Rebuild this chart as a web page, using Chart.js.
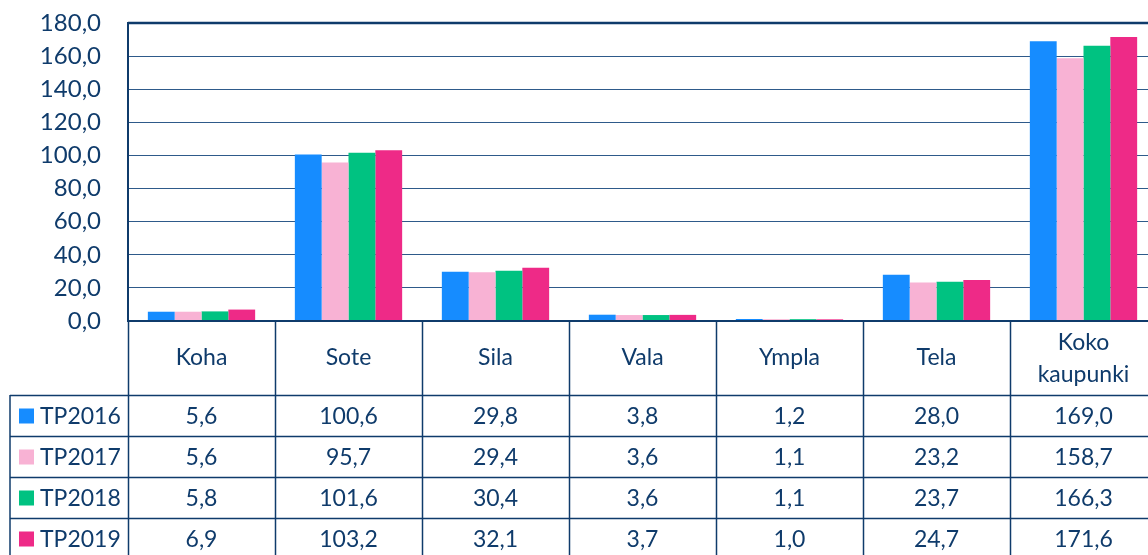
<!DOCTYPE html>
<html>
<head>
<meta charset="utf-8">
<script src="https://cdn.jsdelivr.net/npm/chart.js@4/dist/chart.umd.min.js"></script>
<style>
    html, body { margin: 0; padding: 0; background: #fff; overflow: hidden; }
    #wrap { width: 1160px; height: 555px; }
</style>
</head>
<body>
<div id="wrap"><canvas id="chart" width="1160" height="555"></canvas></div>
<script>
// Datos del gráfico
const categorias = ['Koha', 'Sote', 'Sila', 'Vala', 'Ympla', 'Tela', ['Koko', 'kaupunki']];
const series = ['TP2016', 'TP2017', 'TP2018', 'TP2019'];
const tp2016 = [5.6, 100.6, 29.8, 3.8, 1.2, 28.0, 169.0];
const tp2017 = [5.6, 95.7, 29.4, 3.6, 1.1, 23.2, 158.7];
const tp2018 = [5.8, 101.6, 30.4, 3.6, 1.1, 23.7, 166.3];
const tp2019 = [6.9, 103.2, 32.1, 3.7, 1.0, 24.7, 171.6];
const yTicks = [0, 20, 40, 60, 80, 100, 120, 140, 160, 180];

const colores = ['#168cff', '#f8b2d4', '#00c281', '#ee2a87'];
const navy = '#0f3b6b';
const fuente = 'Lato, "Open Sans", sans-serif';

function fmt(v) {
    return v.toFixed(1).replace('.', ',');
}

// Tabla de datos debajo del gráfico
const tablaPlugin = {
    id: 'tabla',
    afterDraw(chart) {
        const ctx = chart.ctx;
        const area = chart.chartArea;
        const n = categorias.length;
        const colW = area.width / n;
        const headerH = 74;
        const rowH = 41;
        const legendLeft = 10;
        const headerBottom = area.bottom + headerH;
        const tableBottom = headerBottom + rowH * series.length;
        const valores = [tp2016, tp2017, tp2018, tp2019];

        ctx.save();
        ctx.strokeStyle = navy;

        // Marco del área del gráfico
        ctx.lineWidth = 2.5;
        ctx.beginPath();
        ctx.moveTo(area.left, area.top);
        ctx.lineTo(area.right, area.top);
        ctx.stroke();

        ctx.lineWidth = 2;
        ctx.beginPath();
        ctx.moveTo(area.left, area.bottom);
        ctx.lineTo(area.right, area.bottom);
        ctx.stroke();

        // Líneas verticales de la tabla
        ctx.lineWidth = 1.5;
        for (let i = 0; i <= n; i++) {
            const x = Math.round(area.left + i * colW) + 0.5;
            ctx.beginPath();
            ctx.moveTo(x, area.bottom);
            ctx.lineTo(x, tableBottom);
            ctx.stroke();
        }
        ctx.beginPath();
        ctx.moveTo(legendLeft, headerBottom);
        ctx.lineTo(legendLeft, tableBottom);
        ctx.stroke();

        // Líneas horizontales
        for (let r = 0; r <= series.length; r++) {
            const y = Math.round(headerBottom + r * rowH) + 0.5;
            ctx.beginPath();
            ctx.moveTo(legendLeft, y);
            ctx.lineTo(area.right, y);
            ctx.stroke();
        }

        // Encabezados de categoría
        ctx.fillStyle = navy;
        ctx.font = '23px ' + fuente;
        ctx.textAlign = 'center';
        ctx.textBaseline = 'middle';
        const headerMid = area.bottom + headerH / 2;
        categorias.forEach((cat, i) => {
            const cx = area.left + (i + 0.5) * colW;
            if (Array.isArray(cat)) {
                ctx.fillText(cat[0], cx, headerMid - 15);
                ctx.fillText(cat[1], cx, headerMid + 17);
            } else {
                ctx.fillText(cat, cx, headerMid);
            }
        });

        // Filas de datos con leyenda
        series.forEach((nombre, r) => {
            const cy = headerBottom + r * rowH + rowH / 2;
            ctx.fillStyle = colores[r];
            ctx.fillRect(19, cy - 7, 15, 15);
            ctx.fillStyle = navy;
            ctx.textAlign = 'left';
            ctx.fillText(nombre, 40, cy + 1);
            ctx.textAlign = 'center';
            valores[r].forEach((v, i) => {
                const cx = area.left + (i + 0.5) * colW;
                ctx.fillText(fmt(v), cx, cy + 1);
            });
        });

        ctx.restore();
    }
};

const ctx = document.getElementById('chart').getContext('2d');
new Chart(ctx, {
    type: 'bar',
    data: {
        labels: categorias.map(c => Array.isArray(c) ? c.join(' ') : c),
        datasets: series.map((nombre, i) => ({
            label: nombre,
            data: [tp2016, tp2017, tp2018, tp2019][i],
            backgroundColor: colores[i],
            borderWidth: 0,
            categoryPercentage: 0.73,
            barPercentage: 1.0
        }))
    },
    options: {
        responsive: false,
        animation: false,
        layout: {
            padding: { top: 23, right: 3, bottom: 234, left: 0 }
        },
        plugins: {
            legend: { display: false },
            tooltip: { enabled: false }
        },
        scales: {
            x: {
                display: false
            },
            y: {
                min: 0,
                max: 180,
                afterFit(scale) { scale.width = 128; },
                afterBuildTicks(scale) { scale.ticks = yTicks.map(v => ({ value: v })); },
                ticks: {
                    padding: 0,
                    color: navy,
                    font: { family: fuente, size: 24 },
                    callback: v => fmt(v)
                },
                grid: {
                    color: '#2e5a8a',
                    lineWidth: 1,
                    drawTicks: true,
                    tickLength: 27,
                    tickColor: 'rgba(0,0,0,0)'
                },
                border: {
                    display: true,
                    color: navy,
                    width: 2
                }
            }
        }
    },
    plugins: [tablaPlugin]
});
</script>
</body>
</html>
